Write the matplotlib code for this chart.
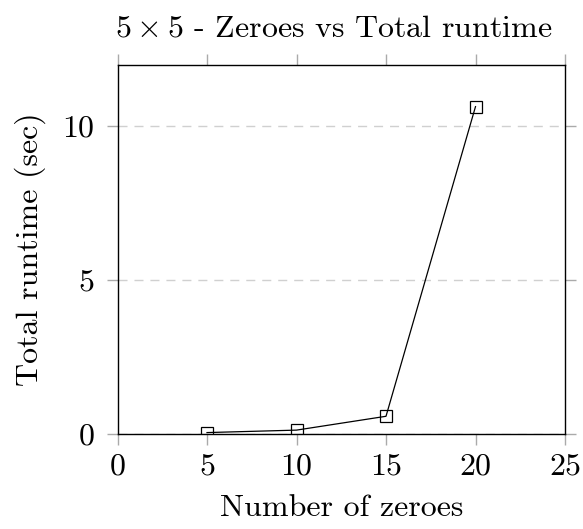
import matplotlib
matplotlib.use("Agg")
import matplotlib.pyplot as plt

zeroes = [5, 10, 15, 20]
runtime = [0.03, 0.11, 0.56, 10.63]
xticks = [0, 5, 10, 15, 20, 25]
yticks = [0, 5, 10]

plt.rcParams['font.family'] = 'serif'
plt.rcParams['font.serif'] = ['cmr10']
plt.rcParams['mathtext.fontset'] = 'cm'
plt.rcParams['axes.formatter.use_mathtext'] = True

W, H = 583, 529
fig = plt.figure(figsize=(W/100, H/100), dpi=100)
l, r, t, b = 117.5, 565, 64.5, 433.5
ax = fig.add_axes([l/W, 1 - b/H, (r-l)/W, (b-t)/H])

ax.plot(zeroes, runtime, color='black', lw=0.9, marker='s', markersize=8,
        markerfacecolor='none', markeredgecolor='black', markeredgewidth=0.9,
        zorder=3)

ax.set_xlim(0, 25)
ax.set_ylim(0, 12)
ax.set_xticks(xticks)
ax.set_yticks(yticks)
ax.yaxis.grid(True, linestyle=(0, (6.5, 5)), color='#d0d0d0', lw=1.0)
ax.set_axisbelow(True)
ax.tick_params(direction='out', length=8, width=1.0, color='#aaaaaa',
               labelsize=23, top=True, right=True)
ax.tick_params(axis='x', pad=6)
ax.tick_params(axis='y', pad=8.5)
for s in ax.spines.values():
    s.set_linewidth(1.0)

ax.set_title(r'$5 \times 5$ - Zeroes vs Total runtime', fontsize=23, pad=20,
             x=0.484)
ax.set_xlabel('Number of zeroes', fontsize=23, labelpad=10)
ax.set_ylabel('Total runtime (sec)', fontsize=23, labelpad=11.5)

fig.savefig('out.png', dpi=100)
